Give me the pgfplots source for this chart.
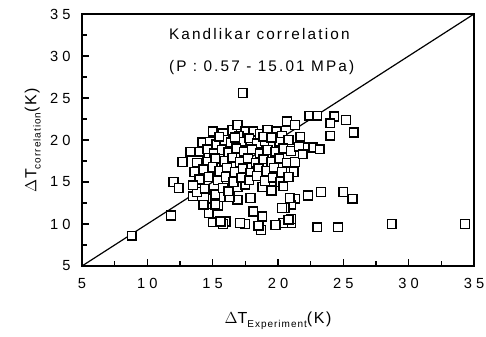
\documentclass[border=0pt]{standalone}
\usepackage{fontspec}
\setmainfont{Liberation Sans}[LetterSpace=10]
\usepackage{pgfplots}
\pgfplotsset{compat=1.18}
\begin{document}
\begin{tikzpicture}
\useasboundingbox (-61.5pt,-52.5pt) rectangle (303pt,199.5pt);
\begin{axis}[
  scale only axis, width=294pt, height=189pt,
  anchor=south west, at={(0,0)},
  xmin=5, xmax=35, ymin=5, ymax=35,
  xtick={5,10,...,35}, ytick={5,10,...,35},
  minor xtick={7.5,12.5,...,32.5}, minor ytick={7.5,12.5,...,32.5},
  xtick pos=left, ytick pos=left, tick align=inside,
  major tick length=5pt, minor tick length=3.5pt,
  axis line style={line width=1pt}, every tick/.style={line width=0.9pt, black},
  /pgf/number format/assume math mode=true,
  tick label style={font=\fontsize{11}{12}\selectfont\addfontfeature{LetterSpace=28}},
  xticklabel style={yshift=-6pt},
  yticklabel style={xshift=-5pt},
  xlabel={\fontsize{12}{13}\selectfont $\Delta$T\raisebox{-0.5ex}{\fontsize{7.5}{8}\selectfont Experiment}(K)},
  ylabel={\fontsize{12}{13}\selectfont $\Delta$T\raisebox{-0.5ex}{\fontsize{7.5}{8}\selectfont correlation}(K)},
  xlabel style={at={(axis description cs:0.5,0)}, anchor=center, yshift=-41pt},
  ylabel style={at={(axis description cs:0,0.5)}, anchor=center, yshift=37pt},
  clip=false,
]
\addplot[black, line width=0.9pt] coordinates {(5,5) (35,35)};
\addplot[only marks, mark=square*, mark size=3.3pt, mark options={fill=white, draw=black, line width=1.1pt}] coordinates {
(8.8,8.6)(11.8,11.0)(12.0,15.0)(12.4,14.3)(13.5,13.3)(13.8,13.8)(17.3,25.6)(34.3,10.0)(28.7,10.0)(24.6,9.6)(23.0,9.6)
(25.0,13.8)(25.7,13.0)(23.3,13.8)(22.3,13.4)(21.3,13.0)(21.0,12.3)(20.5,11.9)(24.3,22.8)(24.0,22.0)(25.2,22.4)(25.8,20.9)
(24.0,20.5)(22.4,22.9)(23.0,22.9)(21.0,10.1)(20.4,10.1)(21.0,10.6)(19.8,9.9)(18.7,9.3)(18.5,9.8)(17.5,10.0)(16.0,10.3)
(15.8,10.0)(15.0,10.2)(14.7,11.3)(14.3,12.3)(15.0,13.0)(15.4,12.2)(15.6,13.2)(17.1,10.1)(18.8,10.9)(18.1,11.5)(16.9,12.9)
(17.9,13.1)(20.3,11.9)(20.9,13.1)(20.8,10.5)(15.6,10.3)(15.2,13.5)(15.2,12.3)(16.3,13.2)(16.9,14.4)(18.8,14.4)(17.5,14.7)
(15.0,21.0)(15.8,20.8)(16.5,21.2)(16.9,21.8)(17.5,21.0)(18.1,21.0)(18.6,20.7)(19.2,21.2)(19.9,21.0)(20.7,22.2)(21.3,21.8)(20.3,20.5)(17.0,20.5)
(14.2,19.7)(14.8,19.8)(15.3,19.5)(15.9,20.0)(16.4,19.7)(17.2,19.8)(17.8,20.2)(18.4,19.6)(19.0,19.9)(19.6,19.5)(20.1,19.8)(20.8,20.0)(21.7,20.4)(15.5,20.4)(16.7,20.3)(18.9,20.4)(19.5,20.3)
(13.3,18.6)(14.0,18.6)(14.6,18.9)(15.1,18.4)(15.7,18.8)(16.2,18.5)(16.8,19.0)(17.4,18.6)(18.0,18.9)(18.6,18.4)(19.2,18.8)(19.8,18.6)(20.4,19.0)(21.0,18.7)(22.1,19.1)(22.7,19.1)(23.2,18.9)(21.6,19.2)
(12.7,17.4)(13.8,17.3)(14.6,17.4)(15.2,17.8)(15.9,17.5)(16.5,17.9)(17.1,17.4)(17.7,17.8)(18.3,17.3)(18.9,17.7)(19.5,17.4)(20.1,17.8)(20.7,17.3)(21.3,17.4)(21.9,18.3)
(13.6,16.2)(14.3,16.5)(15.0,16.8)(15.5,16.3)(16.1,16.7)(16.7,16.2)(17.3,16.6)(17.9,16.1)(18.5,16.6)(19.1,16.3)(19.7,16.7)(20.3,16.2)(21.2,16.2)
(14.0,15.3)(14.7,15.6)(15.4,15.2)(16.0,15.6)(16.6,15.0)(17.2,15.5)(17.8,15.2)(18.4,15.7)(19.0,15.1)(19.6,15.5)(20.2,15.0)(20.8,15.6)
(13.5,14.6)(14.4,14.2)(15.8,14.3)(19.5,14.0)(20.4,14.5)(16.2,13.9)
};
\node[anchor=west, font=\fontsize{11.5}{13}\selectfont\addfontfeature{LetterSpace=14}] at (axis cs:11.3,32.6) {Kandlikar correlation};
\node[anchor=west, font=\fontsize{11.5}{13}\selectfont\addfontfeature{LetterSpace=14}] at (axis cs:11.3,28.6) {(P : 0.57 - 15.01 MPa)};
\end{axis}
\end{tikzpicture}
\end{document}
